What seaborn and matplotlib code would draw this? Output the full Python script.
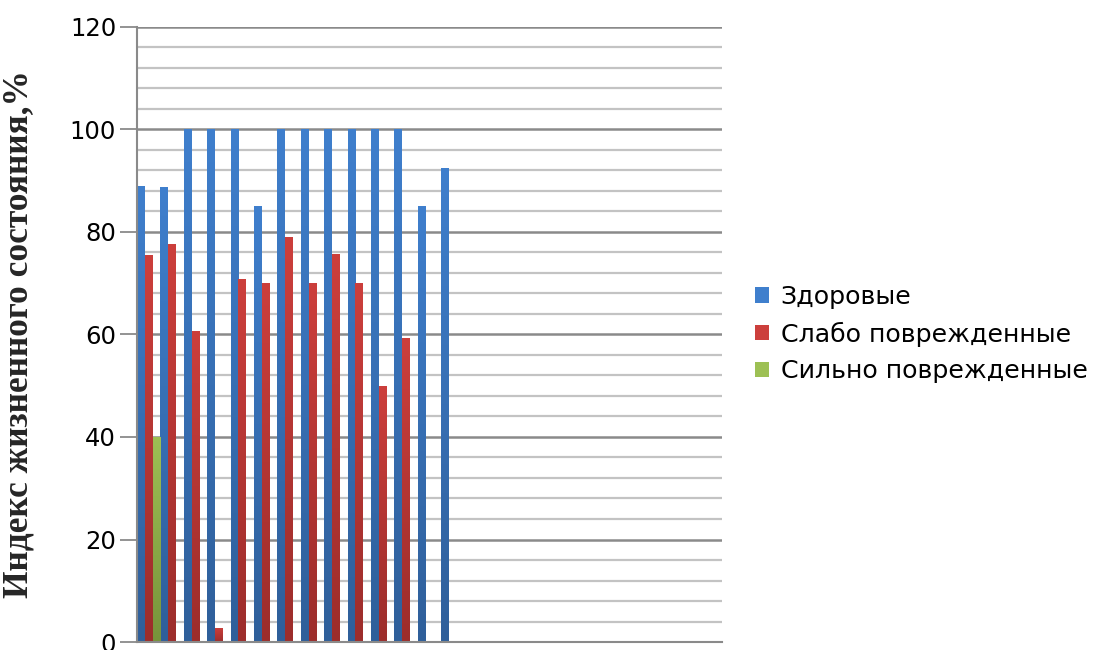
import numpy as np
import pandas as pd
import matplotlib
matplotlib.use("Agg")
import matplotlib.pyplot as plt
import seaborn as sns
from matplotlib.colors import LinearSegmentedColormap

# Plot numbers 1..25; values for plots without trees of a given class are NaN
plots = [str(i) for i in range(1, 26)]
healthy = [89, 88.7, 100, 100, 100, 85, 100, 100, 100, 100, 100, 100, 85, 92.5]
weak = [75.5, 77.6, 60.6, 2.8, 70.8, 70, 79.1, 70, 75.7, 70, 50, 59.3]
strong = [40]
series_names = ["Здоровые", "Слабо поврежденные", "Сильно поврежденные"]
y_label = "Индекс жизненного состояния,%"


def pad(values):
    return list(values) + [np.nan] * (len(plots) - len(values))


df = pd.DataFrame({
    "plot": plots * 3,
    "series": np.repeat(series_names, len(plots)),
    "value": pad(healthy) + pad(weak) + pad(strong),
})

# top / bottom shades for the vertical gradient of each series
shades = {
    "Здоровые": ("#3f7fcd", "#2f5f9a"),
    "Слабо поврежденные": ("#cc3f3c", "#9c2d2b"),
    "Сильно поврежденные": ("#9dc054", "#77933b"),
}
palette = {k: v[0] for k, v in shades.items()}

sns.set_style("white")
plt.rcParams["font.family"] = ["DejaVu Sans"]

fig = plt.figure(figsize=(10.95, 6.5), dpi=100)
ax = fig.add_axes([0.1251, 0.0123, 0.5343, 0.9462])

sns.barplot(data=df, x="plot", y="value", hue="series", hue_order=series_names,
            palette=palette, width=1.0, dodge=True, ax=ax, legend=True,
            saturation=1, linewidth=0, err_kws={"linewidth": 0})

# gradient fill clipped to each bar
grad = np.linspace(0, 1, 256).reshape(-1, 1)
for container, name in zip(ax.containers, series_names):
    cmap = LinearSegmentedColormap.from_list(name, [shades[name][0], shades[name][1]])
    for bar in container:
        h = bar.get_height()
        if not np.isfinite(h) or h <= 0:
            continue
        x0 = bar.get_x()
        w = bar.get_width()
        bar.set_facecolor("none")
        im = ax.imshow(grad, cmap=cmap, aspect="auto", origin="upper",
                       extent=(x0, x0 + w, 0, h), zorder=3)
        im.set_clip_path(bar)

ax.set_aspect("auto")
ax.set_xlim(-0.5, len(plots) - 0.5)
ax.set_ylim(0, 120)

# horizontal gridlines: major every 20, minor every 4
ax.set_yticks(np.arange(0, 121, 20))
ax.grid(False)
for y in np.arange(4, 121, 4):
    major = (y % 20 == 0)
    ax.axhline(y, color="#8a8a8a" if major else "#c3c3c3",
               lw=1.8 if major else 1.6, zorder=1)

ax.set_xticks([])
ax.set_xlabel("")
ax.tick_params(axis="y", which="major", direction="out", length=12, width=1.3,
               color="#8a8a8a", labelsize=17.5, pad=3, left=True,
               labelcolor="black")

for side in ("top", "right"):
    ax.spines[side].set_visible(False)
for side in ("left", "bottom"):
    ax.spines[side].set_color("#8a8a8a")
    ax.spines[side].set_linewidth(1.5)
    ax.spines[side].set_zorder(4)

ax.set_ylabel(y_label, family="Liberation Serif", fontweight="bold",
              fontsize=25.5, labelpad=0)
ax.yaxis.set_label_coords(-0.174, 0.5)

handles, labels = ax.get_legend_handles_labels()
for h, name in zip(handles, series_names):
    h.set_facecolor(shades[name][0])
leg = ax.legend(handles, labels, loc="center left", bbox_to_anchor=(0.6805, 0.486),
                bbox_transform=fig.transFigure, frameon=False, fontsize=18.2,
                handlelength=0.55, handleheight=0.55, handletextpad=0.45,
                labelspacing=0.5, borderaxespad=0)
for t in leg.get_texts():
    t.set_color("black")

fig.savefig("out.png", dpi=100)
